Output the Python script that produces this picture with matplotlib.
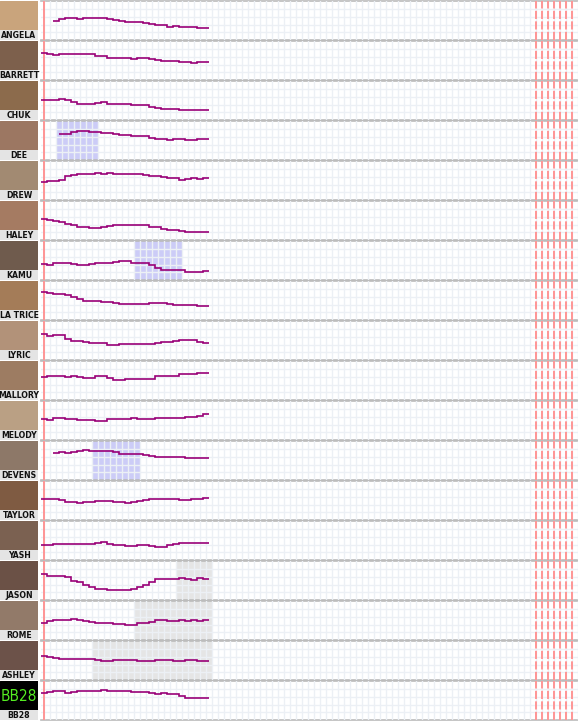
import matplotlib
matplotlib.use('Agg')
import matplotlib.pyplot as plt
import numpy as np

# houseguests, top to bottom
names = ['ANGELA', 'BARRETT', 'CHUK', 'DEE', 'DREW', 'HALEY', 'KAMU', 'LA TRICE', 'LYRIC',
         'MALLORY', 'MELODY', 'DEVENS', 'TAYLOR', 'YASH', 'JASON', 'ROME', 'ASHLEY', 'BB28']

# first day of each series
start_day = [2, 0, 0, 3, 0, 0, 0, 0, 0, 0, 0, 2, 0, 0, 0, 0, 0, 0]

# daily values
angela = [50, 54, 57, 57, 54, 57, 58, 56, 58, 54, 51, 48, 47, 47, 47, 45, 41, 39, 39, 35, 37, 35, 35, 33, 32, 32]
barrett = [70, 67, 64, 66, 66, 66, 66, 66, 66, 63, 61, 58, 58, 58, 58, 55, 57, 57, 55, 52, 48, 50, 48, 47, 47, 45, 47, 47]
chuk = [51, 51, 53, 55, 52, 47, 42, 42, 42, 45, 46, 42, 42, 42, 42, 40, 40, 38, 34, 31, 30, 30, 30, 27, 25, 25, 25, 25]
dee = [68, 68, 72, 75, 76, 73, 73, 71, 69, 66, 65, 64, 62, 62, 61, 57, 54, 54, 53, 55, 55, 53, 53, 54, 55]
drew = [47, 49, 49, 53, 61, 65, 68, 68, 68, 70, 68, 70, 66, 68, 68, 68, 68, 65, 63, 61, 59, 57, 57, 53, 55, 57, 54, 57]
haley = [54, 51, 49, 47, 42, 38, 35, 33, 31, 31, 34, 37, 38, 38, 40, 40, 40, 38, 35, 33, 29, 26, 26, 24, 21, 21, 21, 21]
kamu = [41, 40, 44, 44, 44, 41, 40, 40, 41, 44, 45, 44, 47, 49, 48, 44, 44, 44, 38, 31, 27, 25, 25, 25, 22, 21, 20, 23]
la_trice = [73, 70, 68, 66, 65, 59, 54, 50, 50, 50, 47, 47, 45, 42, 42, 42, 42, 42, 43, 45, 45, 42, 40, 40, 40, 40, 37, 37]
lyric = [66, 63, 65, 64, 54, 49, 49, 47, 45, 45, 43, 40, 40, 42, 42, 42, 42, 42, 42, 45, 47, 47, 50, 53, 53, 51, 47, 45]
mallory = [59, 61, 63, 61, 59, 61, 59, 58, 58, 61, 61, 57, 52, 52, 54, 54, 54, 54, 54, 61, 61, 61, 62, 67, 68, 68, 70, 70]
melody = [54, 53, 57, 57, 54, 54, 52, 52, 52, 49, 49, 54, 54, 54, 54, 57, 54, 54, 55, 57, 57, 57, 57, 57, 60, 60, 62, 66]
devens = [70, 73, 70, 73, 75, 77, 75, 75, 75, 75, 73, 68, 68, 68, 67, 65, 61, 59, 59, 59, 59, 59, 57, 57, 57, 57]
taylor = [54, 54, 54, 52, 47, 47, 45, 47, 47, 49, 49, 49, 47, 47, 45, 47, 50, 52, 54, 54, 54, 54, 54, 52, 52, 54, 54, 57]
yash = [40, 40, 42, 42, 42, 42, 42, 42, 42, 45, 47, 42, 38, 39, 37, 37, 38, 39, 36, 34, 34, 40, 42, 43, 45, 45, 45, 45]
jason = [66, 62, 62, 61, 59, 50, 46, 40, 33, 28, 28, 27, 25, 25, 26, 29, 34, 38, 46, 54, 54, 54, 54, 56, 54, 53, 56, 54]
rome = [44, 48, 52, 52, 53, 54, 52, 50, 47, 45, 43, 44, 41, 41, 39, 40, 45, 44, 47, 52, 52, 48, 50, 52, 50, 52, 50, 51]
ashley = [62, 60, 57, 54, 55, 55, 54, 54, 54, 51, 49, 50, 52, 52, 52, 52, 50, 49, 50, 52, 52, 51, 49, 50, 52, 52, 49, 49]
bb28 = [70, 72, 74, 74, 70, 73, 75, 74, 75, 75, 78, 75, 75, 74, 75, 73, 73, 73, 70, 68, 70, 68, 66, 61, 57, 57, 57, 57]

series = [angela, barrett, chuk, dee, drew, haley, kamu, la_trice, lyric,
          mallory, melody, devens, taylor, yash, jason, rome, ashley, bb28]

# head of household weeks (blue) and nominated weeks (grey): name -> (from day, to day)
hoh_spans = {'DEE': (2, 9), 'DEVENS': (8, 16), 'KAMU': (15, 23)}
block_spans = {'JASON': (22, 28), 'ROME': (15, 28), 'ASHLEY': (8, 28)}

# days marked in red at the end of the season
end_days = [82, 83, 84, 85, 86, 87, 88]

# stand-in colours for the photos
photo_colors = ['#c9a47c', '#7d604c', '#8c6b4c', '#9c7762', '#a28a72', '#a57b62', '#6f5b4d', '#a47c58',
                '#b29279', '#9d7c62', '#baa084', '#8d7868', '#7f5b42', '#7b6151', '#6b5146', '#927a69',
                '#6c5249', '#000000']

W, H = 578, 722
fig = plt.figure(figsize=(W / 100, H / 100), dpi=100)

for i, name in enumerate(names):
    top = 1.2 + 40 * i
    left_px = 41.3
    ax = fig.add_axes([left_px / W, 1 - (top + 39) / H, (W - left_px) / W, 39 / H])
    ax.set_xlim(-0.5, 89)
    ax.set_ylim(0, 100)
    ax.set_xticks(np.arange(0, 90, 1))
    ax.set_yticks([20, 40, 60, 80])
    ax.tick_params(length=0, labelbottom=False, labelleft=False)
    ax.grid(True, color='#ecf0f5', lw=1.0)
    ax.set_axisbelow(False)
    for s in ['left', 'right']:
        ax.spines[s].set_visible(False)
    for s in ['top', 'bottom']:
        ax.spines[s].set_color('#bbbbbb')
        ax.spines[s].set_linewidth(1.2)

    if name in hoh_spans:
        a, b = hoh_spans[name]
        ax.axvspan(a, b, color='#ccccf7', lw=0, zorder=0.5)
    if name in block_spans:
        a, b = block_spans[name]
        ax.axvspan(a, b, color='#e5e5e5', lw=0, zorder=0.5)

    ax.axvline(0, color='#ff9595', lw=1.4, zorder=3)
    for d in end_days:
        ax.axvline(d, color='#ff9595', lw=1.4, ls=(0, (4.2, 1.2)), zorder=3)

    vals = series[i]
    s0 = start_day[i]
    edges = np.arange(len(vals) + 1) + s0 - 0.5
    ax.stairs(vals, edges, color='#990077', lw=1.2, baseline=None, zorder=4)

    # photo placeholder and name strip
    pax = fig.add_axes([0, 1 - (top + 28.5) / H, 38 / W, 28.5 / H])
    pax.set_xlim(0, 1)
    pax.set_ylim(0, 1)
    pax.axis('off')
    pax.add_patch(plt.Rectangle((0, 0), 1, 1, color=photo_colors[i]))
    if name == 'BB28':
        pax.text(0.5, 0.45, 'BB28', color='#55ee22', fontsize=11, ha='center', va='center',
                 family='DejaVu Sans', fontstretch='condensed')

    lax = fig.add_axes([0, 1 - (top + 38.5) / H, 38 / W, 10 / H])
    lax.set_xlim(0, 1)
    lax.set_ylim(0, 1)
    lax.axis('off')
    lax.add_patch(plt.Rectangle((0, 0), 1, 1, color='#e4e4e4'))
    lax.text(0.5, 0.45, name, fontsize=6.2, fontweight='bold', ha='center', va='center',
             family='DejaVu Sans', fontstretch='condensed', color='#111111')

fig.savefig('out.png', dpi=100)
